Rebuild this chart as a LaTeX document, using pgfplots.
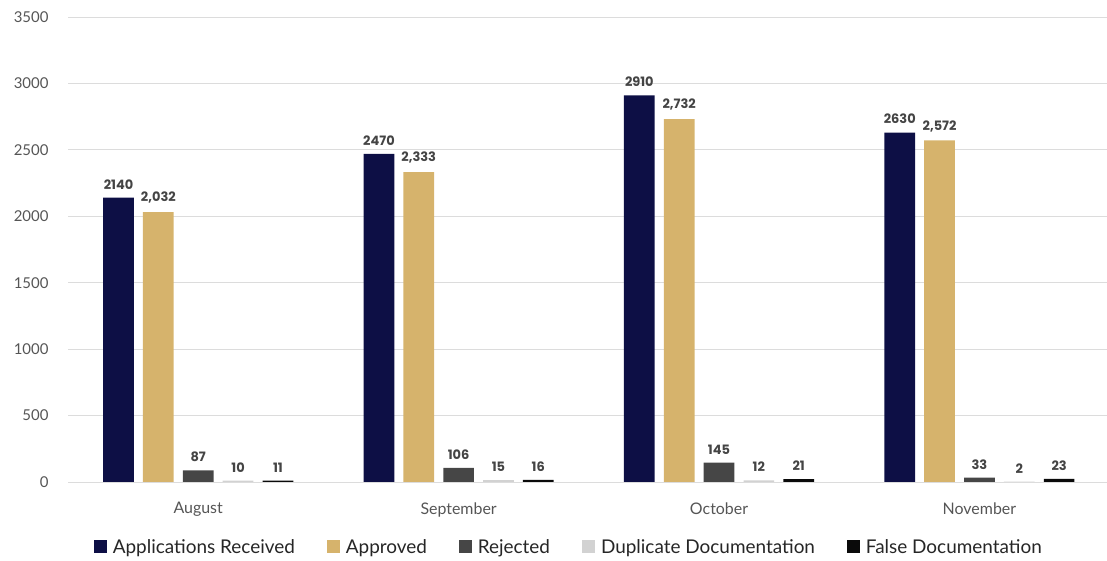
\documentclass[border=0pt]{standalone}
\usepackage{pgfplots}
\pgfplotsset{compat=1.18}
\usepackage{fontspec}
\setmainfont{Lato}
\newfontfamily\labfont{Poppins}
\definecolor{cNavy}{HTML}{0D0F45}
\definecolor{cTan}{HTML}{D6B36C}
\definecolor{cDark}{HTML}{464646}
\definecolor{cLight}{HTML}{D2D2D2}
\definecolor{cBlack}{HTML}{0A0A0A}
\definecolor{cGrid}{HTML}{DCDCDC}
\definecolor{cText}{HTML}{555555}
\begin{document}
\begin{tikzpicture}
\begin{axis}[
  at={(68bp,79bp)}, anchor=south west,
  scale only axis, width=1039bp, height=465bp,
  xmin=-0.5, xmax=3.49, ymin=0, ymax=3500,
  ytick={0,500,...,3500},
  xtick={0,1,2,3},
  xticklabels={August,September,October,November},
  ymajorgrids, grid style={cGrid, line width=0.8bp},
  axis line style={draw=none},
  major tick length=0pt,
  yticklabel style={font=\fontsize{15}{18}\selectfont, text=cText, xshift=-16bp},
  xticklabel style={font=\fontsize{16}{19}\selectfont, text=cText, yshift=-17bp},
  /pgf/number format/assume math mode=true,
  /pgf/number format/1000 sep={},
  ybar, bar width=0.118,
  nodes near coords,
  every node near coord/.append style={font=\labfont\bfseries\fontsize{13}{15}\selectfont, text=cText!80!black, yshift=5bp},
  legend style={at={(0.482,-0.14)}, anchor=center, draw=none, legend columns=5,
    font=\fontsize{19}{22}\selectfont, text=black!85,
    /tikz/every even column/.append style={column sep=30bp}},
  legend image code/.code={\fill[#1] (0bp,-6bp) rectangle (13bp,7bp); \path (17bp,0bp);},
]
\addplot[fill=cNavy, draw=none, bar shift=-0.306] coordinates {(0,2140) (1,2470) (2,2910) (3,2630)};
\addlegendentry{Applications Received}
\addplot[fill=cTan, draw=none, bar shift=-0.153, nodes near coords style={/pgf/number format/1000 sep={,}}] coordinates {(0,2032) (1,2333) (2,2732) (3,2572)};
\addlegendentry{Approved}
\addplot[fill=cDark, draw=none, bar shift=0] coordinates {(0,87) (1,106) (2,145) (3,33)};
\addlegendentry{Rejected}
\addplot[fill=cLight, draw=none, bar shift=0.153] coordinates {(0,10) (1,15) (2,12) (3,2)};
\addlegendentry{Duplicate Documentation}
\addplot[fill=cBlack, draw=none, bar shift=0.306] coordinates {(0,11) (1,16) (2,21) (3,23)};
\addlegendentry{False Documentation}
\end{axis}
\pgfresetboundingbox
\path (0,0) rectangle (1107bp,561bp);
\end{tikzpicture}
\end{document}
